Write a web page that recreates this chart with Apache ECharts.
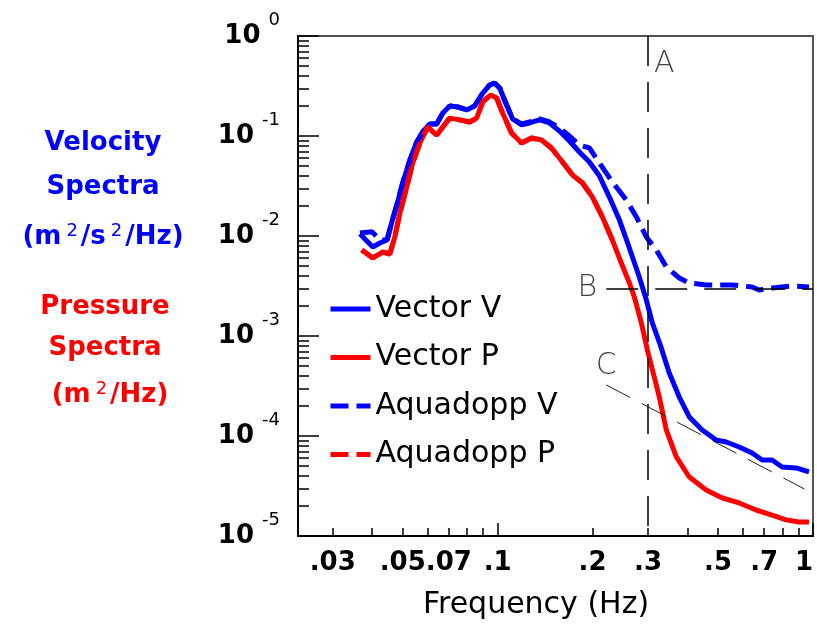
<!DOCTYPE html>
<html>
<head>
<meta charset="utf-8">
<script src="https://cdn.jsdelivr.net/npm/echarts@6/dist/echarts.min.js"></script>
<style>
  html, body { margin: 0; padding: 0; background: #fff; }
  #chart { width: 817px; height: 630px; }
</style>
</head>
<body>
<div id="chart"></div>
<script>
// spectra (frequency in Hz, spectral density)
var vecVFreq = [0.0366,0.0382,0.0402,0.0423,0.0446,0.0462,0.0479,0.0500,0.0527,0.0554,0.0579,0.0609,0.0641,0.0670,0.0705,0.0747,0.0798,0.0846,0.0897,0.0944,0.0978,0.1015,0.1068,0.1116,0.1191,0.1262,0.1358,0.1461,0.1571,0.1690,0.1817,0.1954,0.2103,0.2261,0.2432,0.2577,0.2813,0.2962,0.3094,0.328,0.3501,0.3767,0.4052,0.4454,0.4932,0.5307,0.5833,0.6412,0.6896,0.7417,0.7980,0.8836,0.9714];
var vecV = [0.0105,0.00912,0.00776,0.00851,0.00912,0.0138,0.0204,0.0339,0.0575,0.0871,0.110,0.132,0.132,0.170,0.200,0.195,0.182,0.200,0.269,0.324,0.339,0.302,0.204,0.148,0.129,0.135,0.145,0.135,0.112,0.0891,0.0692,0.0550,0.0398,0.0245,0.0145,0.00871,0.00389,0.00229,0.00135,0.000813,0.000427,0.000245,0.000155,0.000115,9.12e-5,8.71e-5,7.76e-5,6.76e-5,5.75e-5,5.75e-5,4.90e-5,4.79e-5,4.37e-5];

var vecPFreq = [0.0371,0.0402,0.0433,0.0455,0.0472,0.0490,0.0515,0.0538,0.0567,0.0600,0.0641,0.0670,0.0705,0.0758,0.0815,0.0858,0.0897,0.0950,0.0993,0.1037,0.1107,0.1191,0.1281,0.1378,0.1482,0.1606,0.1727,0.1858,0.1998,0.2149,0.2311,0.2467,0.2617,0.2714,0.2856,0.2984,0.3139,0.3256,0.3426,0.3686,0.4052,0.4586,0.5155,0.5833,0.6601,0.7417,0.8215,0.9030,0.9714];
var vecP = [0.00724,0.00603,0.00692,0.00661,0.00977,0.0170,0.0309,0.0537,0.0851,0.123,0.102,0.123,0.151,0.145,0.138,0.151,0.219,0.257,0.240,0.170,0.107,0.0851,0.0955,0.0912,0.0759,0.0550,0.0407,0.0339,0.0245,0.0155,0.00912,0.00537,0.00339,0.00245,0.00135,0.000724,0.000389,0.000245,0.000115,6.17e-5,3.89e-5,2.88e-5,2.40e-5,2.14e-5,1.82e-5,1.62e-5,1.45e-5,1.38e-5,1.38e-5];

var aqVFreq = [0.0366,0.0400,0.0423,0.0446,0.0462,0.0479,0.0500,0.0527,0.0554,0.0579,0.0609,0.0641,0.0670,0.0705,0.0747,0.0798,0.0846,0.0897,0.0944,0.0978,0.1015,0.1068,0.1116,0.1191,0.1262,0.1358,0.1461,0.1571,0.1690,0.1817,0.1954,0.2103,0.2311,0.2559,0.2754,0.2962,0.3185,0.3426,0.3767,0.4052,0.4586,0.5544,0.6412,0.6747,0.7417,0.8582,0.9714];
var aqV = [0.0107,0.0110,0.00912,0.00912,0.0138,0.0204,0.0339,0.0575,0.0871,0.110,0.132,0.132,0.170,0.200,0.195,0.182,0.200,0.269,0.324,0.339,0.302,0.204,0.148,0.132,0.138,0.148,0.138,0.120,0.100,0.0813,0.0759,0.0537,0.0347,0.0229,0.0155,0.00977,0.00724,0.00490,0.00380,0.00339,0.00324,0.00324,0.00309,0.00288,0.00302,0.00316,0.00309];

var aqPFreq = [0.0371,0.0402,0.0433,0.0455,0.0472,0.0490,0.0515,0.0538,0.0567,0.0600,0.0641,0.0670,0.0705,0.0758,0.0815,0.0858,0.0897,0.0950,0.0993,0.1037,0.1107,0.1191,0.1281,0.1378,0.1482,0.1606,0.1727,0.1858,0.1998,0.2149,0.2311];
var aqP = [0.00724,0.00603,0.00692,0.00661,0.00977,0.0170,0.0309,0.0537,0.0851,0.123,0.102,0.123,0.151,0.145,0.138,0.151,0.219,0.257,0.240,0.170,0.107,0.0851,0.0955,0.0912,0.0759,0.0550,0.0407,0.0339,0.0245,0.0155,0.00912];

// tick labels
var xTickVals = [0.03, 0.05, 0.07, 0.1, 0.2, 0.3, 0.5, 0.7, 1];
var xTickLabels = ['.03', '.05', '.07', '.1', '.2', '.3', '.5', '.7', '1'];

// reference lines A, B, C
var lineA = { f: 0.3 };
var lineB = { f0: 0.221, f1: 1, v: 0.003 };
var lineC = { f0: 0.221, v0: 3.24e-4, f1: 0.94, v1: 2.95e-5 };

var lg = Math.log10;
var FONT = 'DejaVu Sans';
var XMIN = -1.633;

function pairs(fs, vs) {
  return fs.map(function (f, i) { return [lg(f), lg(vs[i])]; });
}

// minor tick positions (2..9 in each decade)
var xMinor = [];
[-2, -1].forEach(function (d) {
  for (var k = 1; k <= 9; k++) {
    var v = d + lg(k);
    if (v >= XMIN) xMinor.push(v);
  }
});
xMinor.push(0);
var yMinor = [];
for (var d = -5; d < 0; d++) {
  for (var k = 2; k <= 9; k++) yMinor.push(d + lg(k));
}

var chart = echarts.init(document.getElementById('chart'));

function lineSeries(name, data, color, dashed) {
  return {
    name: name,
    type: 'line',
    data: data,
    showSymbol: false,
    symbol: 'none',
    clip: true,
    itemStyle: { color: color },
    lineStyle: { color: color, width: 5, type: dashed ? [18, 8] : 'solid' }
  };
}

chart.setOption({
  animation: false,
  backgroundColor: '#fff',
  grid: {
    left: 298, top: 36, width: 515, height: 500,
    containLabel: false, outerBoundsMode: 'none',
    show: true, borderColor: '#555', borderWidth: 2
  },
  legend: {
    data: ['Vector V', 'Vector P', 'Aquadopp V', 'Aquadopp P'],
    orient: 'vertical',
    left: 328, top: 294,
    padding: 0,
    itemWidth: 40, itemHeight: 14, itemGap: 18.5,
    itemStyle: { opacity: 0 },
    lineStyle: { width: 5 },
    textStyle: { fontFamily: FONT, fontSize: 30, lineHeight: 30, color: '#000' }
  },
  xAxis: [
    {
      type: 'value', min: XMIN, max: 0, position: 'bottom',
      splitLine: { show: false },
      axisLine: { onZero: false, lineStyle: { color: '#000', width: 2 } },
      axisTick: { inside: true, length: 8, customValues: xMinor, lineStyle: { color: '#000', width: 1.5 } },
      axisLabel: {
        customValues: xTickVals.map(lg),
        margin: 14,
        alignMaxLabel: 'right',
        fontFamily: FONT, fontWeight: 'bold', fontSize: 26, color: '#000',
        formatter: function (v) {
          for (var i = 0; i < xTickVals.length; i++) {
            if (Math.abs(lg(xTickVals[i]) - v) < 1e-6) return xTickLabels[i];
          }
          return '';
        }
      }
    },
    {
      type: 'value', min: XMIN, max: 0, position: 'bottom',
      splitLine: { show: false },
      axisLine: { show: false, onZero: false },
      axisTick: { inside: true, length: 13, customValues: [-1, 0], lineStyle: { color: '#000', width: 1.5 } },
      axisLabel: { show: false }
    }
  ],
  yAxis: [
    {
      type: 'value', min: -5, max: 0, interval: 1, position: 'left',
      splitLine: { show: false },
      axisLine: { onZero: false, lineStyle: { color: '#000', width: 2 } },
      axisTick: { inside: true, length: 21, lineStyle: { color: '#000', width: 1.5 } },
      axisLabel: {
        margin: 18,
        formatter: function (v) { return '{b|10}{s|' + v + '}'; },
        rich: {
          b: { fontFamily: FONT, fontWeight: 'bold', fontSize: 26, lineHeight: 30, color: '#000' },
          s: { fontFamily: FONT, fontSize: 18, lineHeight: 18, padding: [0, 0, 32, 8], color: '#000' }
        }
      }
    },
    {
      type: 'value', min: -5, max: 0, position: 'left',
      splitLine: { show: false },
      axisLine: { show: false, onZero: false },
      axisTick: { inside: true, length: 11, customValues: yMinor, lineStyle: { color: '#000', width: 1.5 } },
      axisLabel: { show: false }
    }
  ],
  series: [
    lineSeries('Vector V', pairs(vecVFreq, vecV), '#0000ff', false),
    lineSeries('Vector P', pairs(vecPFreq, vecP), '#ff0000', false),
    lineSeries('Aquadopp V', pairs(aqVFreq, aqV), '#0000ff', true),
    lineSeries('Aquadopp P', pairs(aqPFreq, aqP), '#ff0000', true),
    {
      name: 'notes',
      type: 'scatter',
      symbolSize: 0,
      silent: true,
      data: [
        { value: [lg(lineA.f), lg(0.525), 'A'], label: { position: 'right', distance: 6 } },
        { value: [lg(lineB.f0), lg(lineB.v), 'B'], label: { position: 'left', distance: 9 } },
        { value: [lg(lineC.f0), lg(lineC.v0), 'C'], label: { position: 'top', distance: 4 } }
      ],
      label: {
        show: true,
        formatter: function (p) { return p.value[2]; },
        fontFamily: FONT, fontSize: 30, fontWeight: 200, color: '#111'
      },
      markLine: {
        silent: true,
        symbol: ['none', 'none'],
        label: { show: false },
        data: [
          [{ coord: [lg(lineA.f), 0], lineStyle: { color: '#000', width: 1.5, type: [30, 16] } },
           { coord: [lg(lineA.f), -5] }],
          [{ coord: [lg(lineB.f0), lg(lineB.v)], lineStyle: { color: '#000', width: 1.5, type: [32, 17] } },
           { coord: [lg(lineB.f1), lg(lineB.v)] }],
          [{ coord: [lg(lineC.f0), lg(lineC.v0)], lineStyle: { color: '#222', width: 1, type: [27, 13] } },
           { coord: [lg(lineC.f1), lg(lineC.v1)] }]
        ]
      }
    }
  ],
  graphic: [
    { type: 'text', style: { x: 103, y: 143, text: 'Velocity', align: 'center', verticalAlign: 'middle',
      font: 'bold 26px "DejaVu Sans"', fill: '#0000ff' } },
    { type: 'text', style: { x: 103, y: 187, text: 'Spectra', align: 'center', verticalAlign: 'middle',
      font: 'bold 26px "DejaVu Sans"', fill: '#0000ff' } },
    { type: 'text', style: { x: 103, y: 237, text: '{a|(m}{s|2}{a|/s}{s|2}{a|/Hz)}', align: 'center', verticalAlign: 'middle',
      rich: {
        a: { fontFamily: FONT, fontWeight: 'bold', fontSize: 26, lineHeight: 30, fill: '#0000ff' },
        s: { fontFamily: FONT, fontSize: 18, lineHeight: 18, padding: [0, 3, 12, 5], fill: '#0000ff' }
      } } },
    { type: 'text', style: { x: 105, y: 307, text: 'Pressure', align: 'center', verticalAlign: 'middle',
      font: 'bold 26px "DejaVu Sans"', fill: '#ff0000' } },
    { type: 'text', style: { x: 105, y: 348, text: 'Spectra', align: 'center', verticalAlign: 'middle',
      font: 'bold 26px "DejaVu Sans"', fill: '#ff0000' } },
    { type: 'text', style: { x: 110, y: 395, text: '{a|(m}{s|2}{a|/Hz)}', align: 'center', verticalAlign: 'middle',
      rich: {
        a: { fontFamily: FONT, fontWeight: 'bold', fontSize: 26, lineHeight: 30, fill: '#ff0000' },
        s: { fontFamily: FONT, fontSize: 18, lineHeight: 18, padding: [0, 3, 12, 5], fill: '#ff0000' }
      } } },
    { type: 'text', style: { x: 536, y: 605, text: 'Frequency (Hz)', align: 'center', verticalAlign: 'middle',
      font: '30px "DejaVu Sans"', fill: '#000' } }
  ]
});
</script>
</body>
</html>
